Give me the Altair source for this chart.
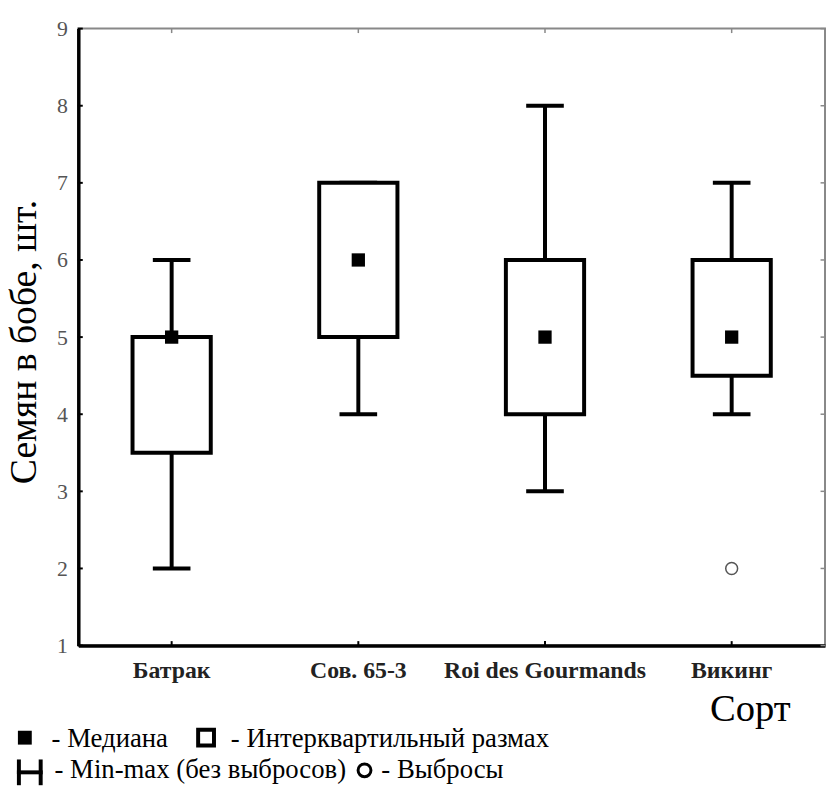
import altair as alt
import pandas as pd

# ---- data ----
cats = ["Батрак", "Сов. 65-3", "Roi des Gourmands", "Викинг"]
mins = [2, 4, 3, 4]
q1s = [3.5, 5, 4, 4.5]
medians = [5, 6, 5, 5]
q3s = [5, 7, 6, 6]
maxs = [6, 7, 8, 7]
outlier_cats = ["Викинг"]
outlier_vals = [2]
y_ticks = [1, 2, 3, 4, 5, 6, 7, 8, 9]

legend_line1 = ["- Медиана", "- Интерквартильный размах"]
legend_line2 = ["- Min-max (без выбросов)", "- Выбросы"]

W, H = 754, 623
FONT = "Liberation Serif"

df = pd.DataFrame({"cat": cats, "min": mins, "q1": q1s, "med": medians,
                   "q3": q3s, "max": maxs})
out_df = pd.DataFrame({"cat": outlier_cats, "val": outlier_vals})
ytick_df = pd.DataFrame({"v": y_ticks})
xtick_df = pd.DataFrame({"cat": cats})
one = pd.DataFrame({"a": [0]})

xscale = alt.Scale(domain=cats, paddingInner=0, paddingOuter=0)
yscale = alt.Scale(domain=[1, 9], nice=False, zero=False)

x_axis = alt.Axis(
    title="Сорт", labelAngle=0, labelFont=FONT, labelFontWeight="bold",
    labelFontSize=24, labelColor="#222", labelPadding=13, tickSize=0,
    labelLimit=400, labelOverlap=False,
    domainColor="black", domainWidth=3.5, grid=False,
    titleFont=FONT, titleFontSize=39, titleFontWeight="normal",
    titleColor="black", titleX=678, titleY=76, titleAlign="center",
    titleBaseline="alphabetic")
y_axis = alt.Axis(
    title="Семян в бобе, шт.", values=y_ticks, labelFont=FONT,
    labelFontSize=22, labelColor="#555", labelPadding=11, tickSize=0,
    labelBaseline="middle",
    domainColor="black", domainWidth=3.5, grid=False,
    titleFont=FONT, titleFontSize=38, titleFontWeight="normal",
    titleColor="black", titleAngle=270, titleX=-43, titleY=316,
    titleAlign="center", titleBaseline="alphabetic")


def X():
    return alt.X("cat:N", scale=xscale, sort=cats, axis=x_axis)


def Y(field):
    return alt.Y(f"{field}:Q", scale=yscale, axis=y_axis)


base = alt.Chart(df)

whisk_lo = base.mark_rule(strokeWidth=4, color="black").encode(
    x=X(), y=Y("min"), y2="q1")
whisk_hi = base.mark_rule(strokeWidth=4, color="black").encode(
    x=X(), y=Y("q3"), y2="max")
cap_lo = base.mark_tick(orient="horizontal", size=38, thickness=4,
                        color="black", opacity=1).encode(x=X(), y=Y("min"))
cap_hi = base.mark_tick(orient="horizontal", size=38, thickness=4,
                        color="black", opacity=1).encode(x=X(), y=Y("max"))
box = base.mark_bar(width=79, fill="white", stroke="black",
                    strokeWidth=4).encode(x=X(), y=Y("q1"), y2="q3")
med = base.mark_square(size=180, color="black", opacity=1).encode(
    x=X(), y=Y("med"))
outl = alt.Chart(out_df).mark_point(shape="circle", size=144, color="#555",
                                    strokeWidth=1.5, filled=False,
                                    opacity=1).encode(x=X(), y=Y("val"))

# frame ticks (inward)
left_ticks = alt.Chart(ytick_df).mark_tick(
    orient="horizontal", size=5, thickness=2, color="black", opacity=1
).encode(y=Y("v"), x=alt.value(2))
right_ticks = alt.Chart(ytick_df).mark_tick(
    orient="horizontal", size=5, thickness=1.5, color="#888", opacity=1
).encode(y=Y("v"), x=alt.value(W - 2))
top_ticks = alt.Chart(xtick_df).mark_tick(
    orient="vertical", size=5, thickness=1.5, color="#888", opacity=1
).encode(x=X(), y=alt.value(2))
bottom_ticks = alt.Chart(xtick_df).mark_tick(
    orient="vertical", size=5, thickness=2, color="black", opacity=1
).encode(x=X(), y=alt.value(H - 2))


# custom legend below the chart
def legend_text(txt, x, y):
    return alt.Chart(pd.DataFrame({"t": [txt]})).mark_text(
        align="left", baseline="alphabetic", font=FONT, fontSize=27,
        color="black").encode(x=alt.value(x), y=alt.value(y), text="t:N")


lg1a = legend_text(legend_line1[0], -27, 725)
lg1b = legend_text(legend_line1[1], 154, 725)
lg2a = legend_text(legend_line2[0], -24, 757)
lg2b = legend_text(legend_line2[1], 306, 757)

sym_med = alt.Chart(one).mark_square(size=196, color="black", opacity=1).encode(
    x=alt.value(-54), y=alt.value(716))
sym_box = alt.Chart(one).mark_square(size=256, filled=False, color="black",
                                     strokeWidth=4, opacity=1).encode(
    x=alt.value(129), y=alt.value(716))
h_l = alt.Chart(one).mark_rule(strokeWidth=4, color="black").encode(
    x=alt.value(-60), y=alt.value(738), y2=alt.value(764))
h_r = alt.Chart(one).mark_rule(strokeWidth=4, color="black").encode(
    x=alt.value(-38), y=alt.value(738), y2=alt.value(764))
h_m = alt.Chart(one).mark_rule(strokeWidth=4, color="black").encode(
    x=alt.value(-62), x2=alt.value(-36), y=alt.value(751))
sym_out = alt.Chart(one).mark_point(shape="circle", size=169, filled=False,
                                    color="black", strokeWidth=3,
                                    opacity=1).encode(
    x=alt.value(289), y=alt.value(749))

chart = alt.layer(
    whisk_lo, whisk_hi, cap_lo, cap_hi, box, med, outl,
    left_ticks, right_ticks, top_ticks, bottom_ticks,
    lg1a, lg1b, lg2a, lg2b, sym_med, sym_box, h_l, h_r, h_m, sym_out,
).properties(
    width=W, height=H,
    autosize=alt.AutoSizeParams(type="none"),
    padding={"left": 71, "top": 17, "right": 1, "bottom": 140},
    background="white",
).configure_view(stroke="#888", strokeWidth=2)

chart.save("out.html", embed_options={"renderer": "svg", "actions": False})
